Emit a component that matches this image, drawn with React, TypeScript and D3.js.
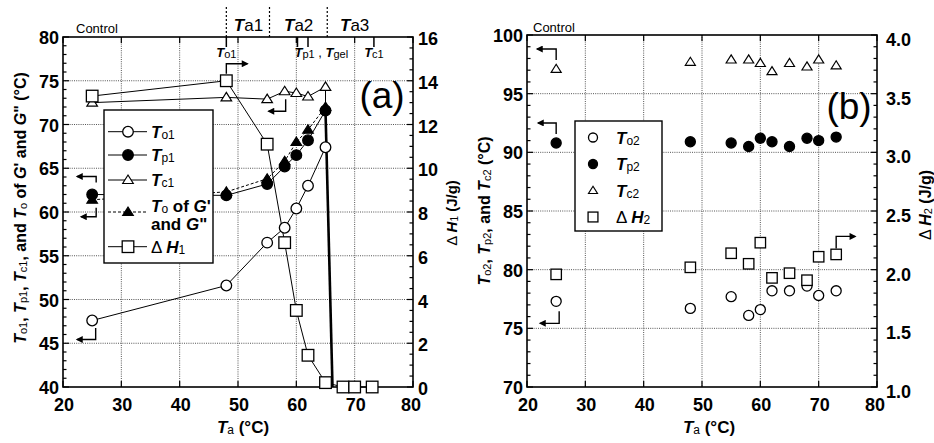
import React from 'react';
import * as d3 from 'd3';

// ---------- Panel (a) data ----------
const taA = [25, 48, 55, 58, 60, 62, 65];
const to1 = [47.6, 51.6, 56.5, 58.2, 60.4, 63.0, 67.4];
const tp1 = [62.0, 61.9, 63.2, 65.2, 66.5, 68.2, 71.6];
const tc1 = [72.5, 73.1, 72.9, 73.8, 73.6, 73.2, 74.3];
const toG = [61.4, 62.3, 63.8, 65.8, 68.0, 69.4, 72.0];
const taH1 = [25, 48, 55, 58, 60, 62, 65, 68, 70, 73];
const dH1 = [13.3, 14.0, 11.1, 6.6, 3.5, 1.45, 0.2, 0, 0, 0];
const gelTa = [65, 66.2];
const gelT = [71.6, 40];
const regionBounds = [48, 55.4, 65.3];
const regionLabelTa = [51.8, 60.4, 70];
const regionLabels = ['a1', 'a2', 'a3'];
const topMarkTa = [48, 60.2, 62, 73.3];

// ---------- Panel (b) data ----------
const taB = [25, 48, 55, 58, 60, 62, 65, 68, 70, 73];
const to2 = [77.3, 76.7, 77.7, 76.1, 76.6, 78.2, 78.2, 78.6, 77.8, 78.2];
const tp2 = [90.8, 90.9, 90.8, 90.5, 91.2, 90.9, 90.5, 91.2, 91.0, 91.3];
const tc2 = [97.1, 97.7, 97.9, 97.9, 97.6, 96.9, 97.6, 97.3, 97.9, 97.4];
const dH2 = [1.96, 2.02, 2.14, 2.05, 2.23, 1.93, 1.97, 1.91, 2.11, 2.13];

// ---------- tick values ----------
const xTicks = [20, 30, 40, 50, 60, 70, 80];
const yAL_ticks = [40, 45, 50, 55, 60, 65, 70, 75, 80];
const yAR_ticks = [0, 2, 4, 6, 8, 10, 12, 14, 16];
const yBL_ticks = [70, 75, 80, 85, 90, 95, 100];
const yBR_ticks = [1.0, 1.5, 2.0, 2.5, 3.0, 3.5, 4.0];

const FONT = '"Liberation Sans", Arial, Helvetica, sans-serif';

const xA = d3.scaleLinear().domain([20, 80]).range([63, 413]);
const yAL = d3.scaleLinear().domain([40, 80]).range([387, 37]);
const yAR = d3.scaleLinear().domain([0, 16]).range([387, 37]);
const xB = d3.scaleLinear().domain([20, 80]).range([527, 877]);
const yBL = d3.scaleLinear().domain([70, 100]).range([387, 35]);
const yBR = d3.scaleLinear().domain([1, 4]).range([387, 35]);

type Seg = { t: string; k?: 'i' | 's' | 'n' | 'r' };

function Rich({ segs, size, subSize, subDy }: { segs: Seg[]; size: number; subSize: number; subDy: number }) {
  let cur = 0;
  return (
    <>
      {segs.map((s, i) => {
        const target = s.k === 's' ? subDy : 0;
        const dy = target - cur;
        cur = target;
        return (
          <tspan
            key={i}
            dy={dy}
            fontStyle={s.k === 'i' ? 'italic' : 'normal'}
            fontWeight={s.k === 's' || s.k === 'r' ? 'normal' : 'bold'}
            fontSize={s.k === 's' ? subSize : size}
          >
            {s.t}
          </tspan>
        );
      })}
    </>
  );
}

function Mark({ kind, x, y, s = 1 }: { kind: string; x: number; y: number; s?: number }) {
  const sw = 1.3;
  if (kind === 'co') return <circle cx={x} cy={y} r={5.3 * s} fill="white" stroke="black" strokeWidth={sw} />;
  if (kind === 'cf') return <circle cx={x} cy={y} r={5.3 * s} fill="black" stroke="black" strokeWidth={sw} />;
  if (kind === 'sq') {
    const h = 5.8 * s;
    return <rect x={x - h} y={y - h} width={2 * h} height={2 * h} fill="white" stroke="black" strokeWidth={sw} />;
  }
  const w = 5.3 * s, t = 5 * s, b = 3.5 * s;
  const d = `M${x},${y - t}L${x + w},${y + b}L${x - w},${y + b}Z`;
  if (kind === 'to') return <path d={d} fill="white" stroke="black" strokeWidth={sw * 0.9} />;
  return <path d={d} fill="black" stroke="black" strokeWidth={sw * 0.9} />;
}

function Arrow({ x, y, offs }: { x: number; y: number; offs: number[][] }) {
  const d = 'M' + offs.map((o) => `${x + o[0]},${y + o[1]}`).join('L');
  return <path d={d} fill="none" stroke="black" strokeWidth={1.4} markerEnd="url(#ah)" />;
}

const lineGen = d3.line<[number, number]>().x((d) => d[0]).y((d) => d[1]);

function Frame({
  x, yL, yR, lTicks, rTicks, lMinor, rMinor, lFmt, rFmt, rDy, rGap,
}: {
  x: d3.ScaleLinear<number, number>; yL: d3.ScaleLinear<number, number>; yR: d3.ScaleLinear<number, number>;
  lTicks: number[]; rTicks: number[]; lMinor: number; rMinor: number;
  lFmt: (v: number) => string; rFmt: (v: number) => string; rDy: number; rGap: number;
}) {
  const [x0, x1] = x.range();
  const [y0, y1] = yL.range();
  const lMin = d3.range(yL.domain()[0], yL.domain()[1] + 1e-9, lMinor);
  const rMin = d3.range(yR.domain()[0], yR.domain()[1] + 1e-9, rMinor);
  return (
    <g>
      {xTicks.slice(1, -1).map((v) => (
        <line key={'gx' + v} x1={x(v)} x2={x(v)} y1={y1} y2={y0} stroke="#555" strokeWidth={1} strokeDasharray="1,1.2" />
      ))}
      {lTicks.slice(1, -1).map((v) => (
        <line key={'gy' + v} x1={x0} x2={x1} y1={yL(v)} y2={yL(v)} stroke="#555" strokeWidth={1} strokeDasharray="1,1.2" />
      ))}
      {lMin.map((v) => {
        const major = lTicks.some((t) => Math.abs(t - v) < 1e-6);
        return <line key={'lm' + v} x1={x0} x2={x0 + (major ? 6 : 3.5)} y1={yL(v)} y2={yL(v)} stroke="black" strokeWidth={1.2} />;
      })}
      {rMin.map((v) => {
        const major = rTicks.some((t) => Math.abs(t - v) < 1e-6);
        return <line key={'rm' + v} x1={x1} x2={x1 - (major ? 6 : 3.5)} y1={yR(v)} y2={yR(v)} stroke="black" strokeWidth={1.2} />;
      })}
      {xTicks.map((v) => (
        <g key={'xt' + v}>
          <line x1={x(v)} x2={x(v)} y1={y0} y2={y0 - 6} stroke="black" strokeWidth={1.2} />
          <line x1={x(v)} x2={x(v)} y1={y1} y2={y1 + 6} stroke="black" strokeWidth={1.2} />
          <text x={x(v) + (v === 80 ? -2 : 1)} y={411} textAnchor="middle" fontSize={18} fontWeight="bold" fontFamily={FONT}>{v}</text>
        </g>
      ))}
      <rect x={x0} y={y1} width={x1 - x0} height={y0 - y1} fill="none" stroke="black" strokeWidth={1.6} />
      {lTicks.map((v) => (
        <text key={'ll' + v} x={x0 - 4} y={yL(v) + 1} dominantBaseline="central" textAnchor="end" fontSize={18} fontWeight="bold" fontFamily={FONT}>{lFmt(v)}</text>
      ))}
      {rTicks.map((v) => (
        <text key={'rl' + v} x={x1 + rGap} y={yR(v) + rDy} dominantBaseline="central" textAnchor="start" fontSize={18} fontWeight="bold" fontFamily={FONT}>{rFmt(v)}</text>
      ))}
    </g>
  );
}

function PanelA() {
  const ptsL = (ys: number[]) => taA.map((t, i) => [xA(t), yAL(ys[i])] as [number, number]);
  const ptsH = taH1.map((t, i) => [xA(t), yAR(dH1[i])] as [number, number]);
  const gel = gelTa.map((t, i) => [xA(t), yAL(gelT[i])] as [number, number]);
  const last = taA.length - 1;
  return (
    <g>
      <Frame x={xA} yL={yAL} yR={yAR} lTicks={yAL_ticks} rTicks={yAR_ticks} lMinor={1} rMinor={0.5}
        lFmt={(v) => String(v)} rFmt={(v) => String(v)} rDy={2} rGap={5} />
      {regionBounds.map((v) => (
        <line key={'rb' + v} x1={xA(v)} x2={xA(v)} y1={7} y2={37} stroke="black" strokeWidth={1.2} strokeDasharray="2,2" />
      ))}
      {regionLabelTa.map((v, i) => (
        <text key={'rl' + i} x={xA(v)} y={31} textAnchor="middle" fontFamily={FONT} style={{ whiteSpace: 'pre' }}>
          <Rich segs={[{ t: 'T', k: 'i' }, { t: regionLabels[i], k: 'r' }]} size={17} subSize={13} subDy={0} />
        </text>
      ))}
      <text x={76} y={33} fontSize={13} fontFamily={FONT}>Control</text>
      {topMarkTa.map((v) => (
        <line key={'tm' + v} x1={xA(v)} x2={xA(v)} y1={37} y2={47} stroke="black" strokeWidth={1.5} />
      ))}
      <text x={xA(48)} y={57} textAnchor="middle" fontFamily={FONT} style={{ whiteSpace: 'pre' }}>
        <Rich segs={[{ t: 'T', k: 'i' }, { t: 'o1', k: 's' }]} size={13} subSize={11} subDy={1} />
      </text>
      <text x={xA(60.2) - 3} y={57} fontFamily={FONT} style={{ whiteSpace: 'pre' }}>
        <Rich segs={[{ t: 'T', k: 'i' }, { t: 'p1', k: 's' }, { t: ' , ', k: 'r' }, { t: 'T', k: 'i' }, { t: 'gel', k: 's' }]} size={13} subSize={11} subDy={1} />
      </text>
      <text x={xA(73.3)} y={57} textAnchor="middle" fontFamily={FONT} style={{ whiteSpace: 'pre' }}>
        <Rich segs={[{ t: 'T', k: 'i' }, { t: 'c1', k: 's' }]} size={13} subSize={11} subDy={1} />
      </text>
      <text x={382} y={108} textAnchor="middle" fontSize={37} fontFamily={FONT}>(a)</text>

      <path d={lineGen(ptsH)!} fill="none" stroke="black" strokeWidth={1} />
      <path d={lineGen(ptsL(to1))!} fill="none" stroke="black" strokeWidth={1} />
      <path d={lineGen(ptsL(tc1))!} fill="none" stroke="black" strokeWidth={1} />
      <line x1={xA(taA[last])} x2={xA(taA[last])} y1={yAL(tc1[last])} y2={yAL(tp1[last])} stroke="black" strokeWidth={1} />
      <path d={lineGen(ptsL(toG))!} fill="none" stroke="black" strokeWidth={1} strokeDasharray="3,2" />
      <path d={lineGen(ptsL(tp1))!} fill="none" stroke="black" strokeWidth={1} />
      <path d={lineGen(gel)!} fill="none" stroke="black" strokeWidth={2.6} />

      {ptsL(tc1).map((p, i) => <Mark key={'tc' + i} kind="to" x={p[0]} y={p[1]} />)}
      {ptsH.map((p, i) => <Mark key={'h' + i} kind="sq" x={p[0]} y={p[1]} />)}
      {ptsL(toG).map((p, i) => <Mark key={'tg' + i} kind="tf" x={p[0]} y={p[1]} />)}
      {ptsL(tp1).map((p, i) => <Mark key={'tp' + i} kind="cf" x={p[0]} y={p[1]} />)}
      {ptsL(to1).map((p, i) => <Mark key={'to' + i} kind="co" x={p[0]} y={p[1]} />)}

      <Arrow x={xA(48)} y={yAR(dH1[1])} offs={[[0, -7], [0, -17], [21, -17]]} />
      <Arrow x={xA(58)} y={yAL(tc1[3])} offs={[[1, 8], [1, 20], [-16, 20]]} />
      <Arrow x={xA(25)} y={yAL(tp1[0])} offs={[[4, -12], [4, -18], [-15, -18]]} />
      <Arrow x={xA(25)} y={yAL(toG[0])} offs={[[4, 8], [4, 17], [-11, 17]]} />
      <Arrow x={xA(25)} y={yAL(to1[0])} offs={[[3.5, 7.5], [3.5, 19], [-15, 19]]} />

      <rect x={104} y={110} width={109} height={153} fill="white" stroke="black" strokeWidth={1.4} />
      {[
        { y: 131.7, kind: 'co', dash: false, segs: [{ t: 'T', k: 'i' }, { t: 'o1', k: 's' }] },
        { y: 155, kind: 'cf', dash: false, segs: [{ t: 'T', k: 'i' }, { t: 'p1', k: 's' }] },
        { y: 180, kind: 'to', dash: false, segs: [{ t: 'T', k: 'i' }, { t: 'c1', k: 's' }] },
        { y: 212, kind: 'tf', dash: true, segs: [] },
        { y: 246.7, kind: 'sq', dash: false, segs: [{ t: 'Δ', k: 'r' }, { t: ' ', k: 'r' }, { t: 'H', k: 'i' }, { t: '1', k: 's' }] },
      ].map((r, i) => (
        <g key={'lg' + i}>
          <line x1={108} x2={147} y1={r.y} y2={r.y} stroke="black" strokeWidth={1} strokeDasharray={r.dash ? '3,2' : undefined} />
          <Mark kind={r.kind} x={128} y={r.y} />
          {r.segs.length > 0 && (
            <text x={151} y={r.y + 6} fontFamily={FONT} style={{ whiteSpace: 'pre' }}>
              <Rich segs={r.segs as Seg[]} size={17} subSize={12} subDy={1} />
            </text>
          )}
        </g>
      ))}
      <text x={151} y={212} fontFamily={FONT} style={{ whiteSpace: 'pre' }}>
        <Rich segs={[{ t: 'T', k: 'i' }, { t: 'o', k: 's' }, { t: ' of ', k: 'n' }, { t: 'G', k: 'i' }, { t: "'", k: 'n' }]} size={17} subSize={12} subDy={1} />
      </text>
      <text x={151} y={230} fontFamily={FONT} style={{ whiteSpace: 'pre' }}>
        <Rich segs={[{ t: 'and ', k: 'n' }, { t: 'G', k: 'i' }, { t: '"', k: 'n' }]} size={17} subSize={12} subDy={1} />
      </text>

      <text transform="translate(26,208) rotate(-90)" textAnchor="middle" fontFamily={FONT} style={{ whiteSpace: 'pre' }}>
        <Rich segs={[
          { t: 'T', k: 'i' }, { t: 'o1', k: 's' }, { t: ', ', k: 'n' },
          { t: 'T', k: 'i' }, { t: 'p1', k: 's' }, { t: ', ', k: 'n' },
          { t: 'T', k: 'i' }, { t: 'c1', k: 's' }, { t: ', and ', k: 'n' },
          { t: 'T', k: 'i' }, { t: 'o', k: 's' }, { t: ' of ', k: 'n' },
          { t: 'G', k: 'i' }, { t: "' and ", k: 'n' }, { t: 'G', k: 'i' }, { t: '" (°C)', k: 'n' },
        ]} size={16} subSize={11} subDy={1} />
      </text>
      <text transform="translate(457,213) rotate(-90)" textAnchor="middle" fontFamily={FONT} style={{ whiteSpace: 'pre' }}>
        <Rich segs={[{ t: 'Δ', k: 'r' }, { t: ' ', k: 'r' }, { t: 'H', k: 'i' }, { t: '1', k: 's' }, { t: ' (J/g)', k: 'n' }]} size={15} subSize={10} subDy={1} />
      </text>
      <text x={243} y={433} textAnchor="middle" fontFamily={FONT} style={{ whiteSpace: 'pre' }}>
        <Rich segs={[{ t: 'T', k: 'i' }, { t: 'a', k: 's' }, { t: ' (°C)', k: 'n' }]} size={17} subSize={12} subDy={1} />
      </text>
    </g>
  );
}

function PanelB() {
  const pts = (ys: number[], y: d3.ScaleLinear<number, number>) => taB.map((t, i) => [xB(t), y(ys[i])] as [number, number]);
  const n = taB.length - 1;
  return (
    <g>
      <Frame x={xB} yL={yBL} yR={yBR} lTicks={yBL_ticks} rTicks={yBR_ticks} lMinor={1} rMinor={0.1}
        lFmt={(v) => String(v)} rFmt={(v) => v.toFixed(1)} rDy={5} rGap={9} />
      <text x={533} y={32} fontSize={13} fontFamily={FONT}>Control</text>
      <text x={849} y={119} textAnchor="middle" fontSize={37} fontFamily={FONT}>(b)</text>

      {pts(tc2, yBL).map((p, i) => <Mark key={'tc' + i} kind="to" x={p[0]} y={p[1]} s={0.95} />)}
      {pts(tp2, yBL).map((p, i) => <Mark key={'tp' + i} kind="cf" x={p[0]} y={p[1]} s={0.95} />)}
      {pts(to2, yBL).map((p, i) => <Mark key={'to' + i} kind="co" x={p[0]} y={p[1]} s={0.95} />)}
      {pts(dH2, yBR).map((p, i) => <Mark key={'h' + i} kind="sq" x={p[0]} y={p[1]} s={0.9} />)}

      <Arrow x={xB(25)} y={yBL(tc2[0])} offs={[[0, -9], [0, -20], [-19, -20]]} />
      <Arrow x={xB(25)} y={yBL(tp2[0])} offs={[[0, -9], [0, -20], [-18, -20]]} />
      <Arrow x={xB(25)} y={yBL(to2[0])} offs={[[3, 10], [3, 22], [-16, 22]]} />
      <Arrow x={xB(taB[n])} y={yBR(dH2[n])} offs={[[0, -6], [0, -18], [19, -18]]} />

      <rect x={575} y={121} width={87} height={110} fill="white" stroke="black" strokeWidth={1.4} />
      {[
        { y: 137.5, kind: 'co', segs: [{ t: 'T', k: 'i' }, { t: 'o2', k: 's' }] },
        { y: 164, kind: 'cf', segs: [{ t: 'T', k: 'i' }, { t: 'p2', k: 's' }] },
        { y: 190.5, kind: 'to', segs: [{ t: 'T', k: 'i' }, { t: 'c2', k: 's' }] },
        { y: 217, kind: 'sq', segs: [{ t: 'Δ', k: 'r' }, { t: ' ', k: 'r' }, { t: 'H', k: 'i' }, { t: '2', k: 's' }] },
      ].map((r, i) => (
        <g key={'lg' + i}>
          <Mark kind={r.kind} x={593} y={r.y} s={0.85} />
          <text x={616} y={r.y + 6} fontFamily={FONT} style={{ whiteSpace: 'pre' }}>
            <Rich segs={r.segs as Seg[]} size={17} subSize={12} subDy={1} />
          </text>
        </g>
      ))}

      <text transform="translate(490,211) rotate(-90)" textAnchor="middle" fontFamily={FONT} style={{ whiteSpace: 'pre' }}>
        <Rich segs={[
          { t: 'T', k: 'i' }, { t: 'o2', k: 's' }, { t: ', ', k: 'n' },
          { t: 'T', k: 'i' }, { t: 'p2', k: 's' }, { t: ', and ', k: 'n' },
          { t: 'T', k: 'i' }, { t: 'c2', k: 's' }, { t: ' (°C)', k: 'n' },
        ]} size={16} subSize={11} subDy={1} />
      </text>
      <text transform="translate(931,205) rotate(-90)" textAnchor="middle" fontFamily={FONT} style={{ whiteSpace: 'pre' }}>
        <Rich segs={[{ t: 'Δ', k: 'r' }, { t: ' ', k: 'r' }, { t: 'H', k: 'i' }, { t: '2', k: 's' }, { t: ' (J/g)', k: 'n' }]} size={16} subSize={11} subDy={1} />
      </text>
      <text x={709} y={433} textAnchor="middle" fontFamily={FONT} style={{ whiteSpace: 'pre' }}>
        <Rich segs={[{ t: 'T', k: 'i' }, { t: 'a', k: 's' }, { t: ' (°C)', k: 'n' }]} size={17} subSize={12} subDy={1} />
      </text>
    </g>
  );
}

export default function App() {
  return (
    <svg width={934} height={443} viewBox="0 0 934 443" style={{ position: 'absolute', left: 0, top: 0, background: 'white' }}>
      <defs>
        <marker id="ah" viewBox="0 0 10 10" refX="8" refY="5" markerWidth="10" markerHeight="7" markerUnits="userSpaceOnUse" orient="auto">
          <path d="M0,0L10,5L0,10Z" fill="black" />
        </marker>
      </defs>
      <rect x={0} y={0} width={934} height={443} fill="white" />
      <PanelA />
      <PanelB />
    </svg>
  );
}
